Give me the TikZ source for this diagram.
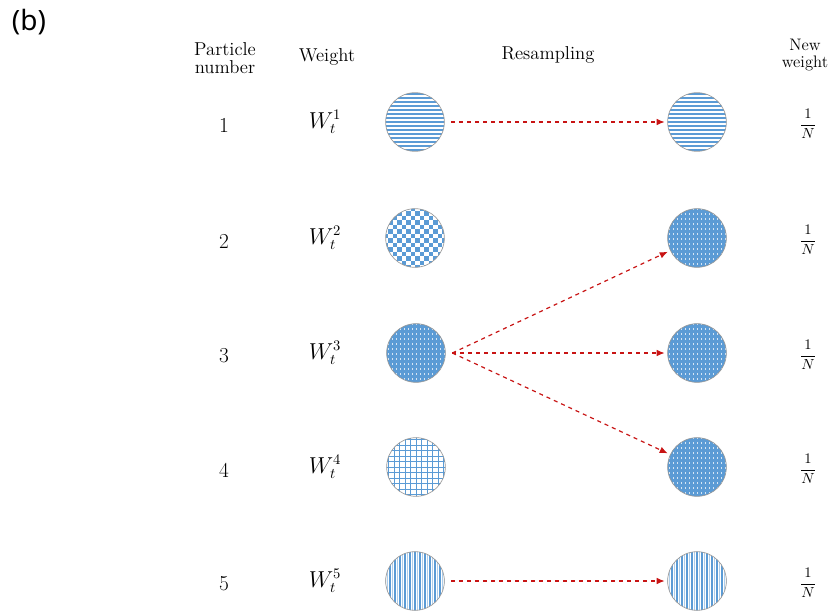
\documentclass[tikz,border=0pt]{standalone}
\usepackage{amsmath}
\usepackage{fontspec}
\newfontfamily\labelfont{Noto Sans}
\usetikzlibrary{arrows.meta}
\definecolor{pblue}{RGB}{91,155,213}
\definecolor{arrowred}{RGB}{200,20,20}
\tikzset{
  particle/.style={circle, minimum size=44pt, inner sep=0pt, draw=gray!80, line width=0.5pt},
  hlines/.style={particle, path picture={
    \foreach \k in {-8,...,8}
      \draw[pblue, line width=1.5pt] ([shift={(-40,\k*4)}]path picture bounding box.center) -- ++(80,0);}},
  vlines/.style={particle, path picture={
    \foreach \k in {-7,...,7}
      \draw[pblue, line width=0.8pt] ([shift={(\k*5,-40)}]path picture bounding box.center) -- ++(0,80);
    \foreach \k in {-7,...,7}
      \draw[pblue!50, line width=0.6pt] ([shift={(\k*5+2.5,-40)}]path picture bounding box.center) -- ++(0,80);}},
  checker/.style={particle, path picture={
    \foreach \i in {-8,...,7}{\foreach \j in {-8,...,7}{
      \pgfmathtruncatemacro\s{mod(\i+\j+16,2)}
      \ifnum\s=0 \fill[pblue] ([shift={(\i*4.5,\j*4.5)}]path picture bounding box.center) rectangle ++(4.5,4.5);\fi}}}},
  dotfill/.style={particle, fill=pblue, path picture={
    \foreach \i in {-8,...,8}{\foreach \j in {-7,...,7}
      \fill[white, opacity=0.75] ([shift={(\i*4,\j*5)}]path picture bounding box.center) rectangle ++(1,1.6);}}},
  meshfill/.style={particle, path picture={
    \foreach \k in {-7,...,7}{
      \draw[pblue, line width=0.6pt] ([shift={(\k*5.5,-40)}]path picture bounding box.center) -- ++(0,80);
      \draw[pblue, line width=0.6pt] ([shift={(-40,\k*5.5)}]path picture bounding box.center) -- ++(80,0);}}},
  resample/.style={draw=arrowred, line width=0.9pt, dashed, -{Latex[length=6pt,width=5pt]}, shorten >=2pt},
  head/.style={align=center, font=\fontsize{14}{15}\selectfont},
  txt/.style={font=\fontsize{16}{18}\selectfont}
}
\begin{document}
\begin{tikzpicture}[x=0.75pt, y=-0.75pt]
\useasboundingbox (0,0) rectangle (830,614);
\node[font=\labelfont\fontsize{21}{24}\selectfont] (tag) at (29,22) {(b)};
% column headings
\node[head] (hnum) at (225,58) {Particle\\[-2pt]number};
\node[head] (hwt) at (327,57) {Weight};
\node[head] (hres) at (548,55) {Resampling};
\node[head, font=\fontsize{12.5}{14}\selectfont] (hnew) at (805,55) {New\\[-1pt]weight};
% rows
\foreach \r/\y in {1/122,2/238,3/353,4/467,5/581}{
  \node[txt] (n\r) at (224,\y+3) {\r};
  \node[txt] (w\r) at (325,\y) {$W_t^{\r}$};
  \node[font=\fontsize{11}{13}\selectfont] (f\r) at (808,\y+2) {$\dfrac{1}{N}$};
}
% particles before resampling
\node[hlines] (p1) at (415,122) {};
\node[checker] (p2) at (415,238) {};
\node[dotfill] (p3) at (416,353) {};
\node[meshfill] (p4) at (416,467) {};
\node[vlines] (p5) at (415,581) {};
% particles after resampling
\node[hlines] (q1) at (697,122) {};
\node[dotfill] (q2) at (697,238) {};
\node[dotfill] (q3) at (697,353) {};
\node[dotfill] (q4) at (697,467) {};
\node[vlines] (q5) at (697,581) {};
\coordinate (s1) at ([xshift=5pt]p1.east);
\coordinate (s3) at ([xshift=5pt]p3.east);
\coordinate (s5) at ([xshift=5pt]p5.east);
\draw[resample] (s1) -- (q1);
\draw[resample] (s3) -- (q2);
\draw[resample] (s3) -- (q3);
\draw[resample] (s3) -- (q4);
\draw[resample] (s5) -- (q5);
\end{tikzpicture}
\end{document}
